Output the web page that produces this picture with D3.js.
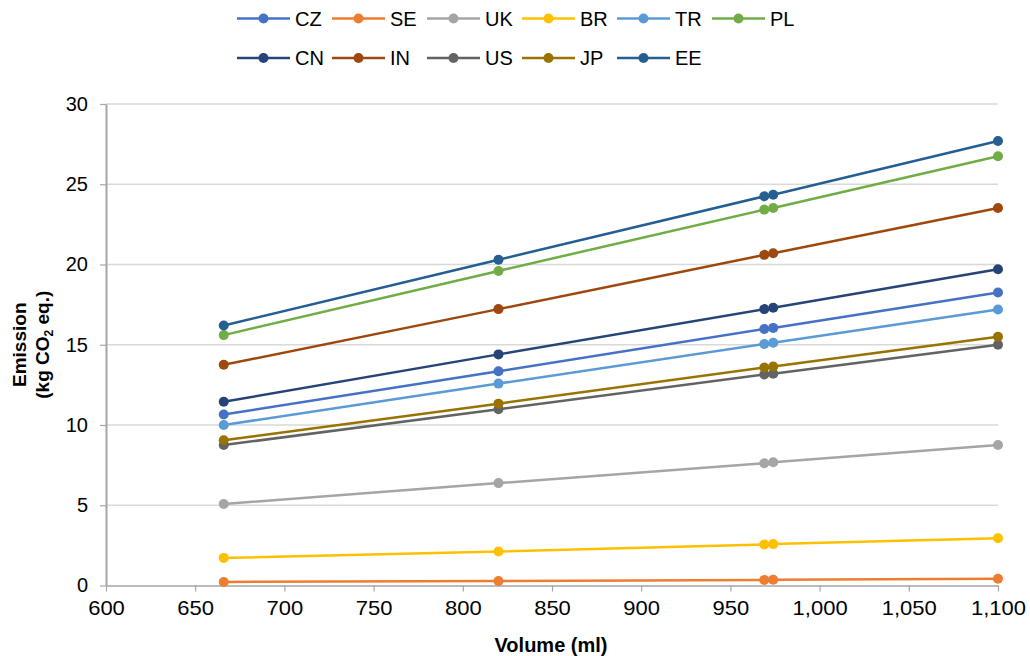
<!DOCTYPE html>
<html>
<head>
<meta charset="utf-8">
<script src="https://cdn.jsdelivr.net/npm/d3@7"></script>
<style>
  html, body { margin: 0; padding: 0; background: #fff; }
  svg { display: block; font-family: "Liberation Sans", Arial, sans-serif; }
</style>
</head>
<body>
<svg id="chart" width="1030" height="656"></svg>
<script>
// ---- data ----
const volumes = [666, 820, 969, 974, 1100];
const seriesNames = ["CZ", "SE", "UK", "BR", "TR", "PL", "CN", "IN", "US", "JP", "EE"];
const seriesColors = ["#4472C4", "#ED7D31", "#A5A5A5", "#FFC000", "#5B9BD5", "#70AD47",
                      "#264478", "#9E480E", "#636363", "#997300", "#255E91"];
const CZ = [10.65, 13.35, 15.98, 16.05, 18.25];
const SE = [0.22, 0.28, 0.35, 0.36, 0.42];
const UK = [5.08, 6.38, 7.62, 7.68, 8.75];
const BR = [1.72, 2.12, 2.55, 2.58, 2.95];
const TR = [10.0, 12.58, 15.05, 15.12, 17.2];
const PL = [15.6, 19.6, 23.42, 23.52, 26.75];
const CN = [11.45, 14.4, 17.22, 17.3, 19.7];
const IN = [13.75, 17.22, 20.6, 20.7, 23.52];
const US = [8.75, 10.98, 13.15, 13.2, 15.0];
const JP = [9.05, 11.33, 13.58, 13.65, 15.5];
const EE = [16.2, 20.3, 24.25, 24.35, 27.7];
const seriesValues = [CZ, SE, UK, BR, TR, PL, CN, IN, US, JP, EE];
const xTicks = [600, 650, 700, 750, 800, 850, 900, 950, 1000, 1050, 1100];
const yTicks = [0, 5, 10, 15, 20, 25, 30];
const xTitle = "Volume (ml)";
const yTitle1 = "Emission";

// ---- layout ----
(function () {
const svg = d3.select("#chart");
const pL = 106, pR = 998, pT = 104, pB = 585.5;
const x = d3.scaleLinear().domain([600, 1100]).range([pL, pR]);
const y = d3.scaleLinear().domain([0, 30]).range([pB, pT]);

// gridlines
svg.append("g").selectAll("line").data(yTicks.filter(d => d > 0)).join("line")
  .attr("x1", pL).attr("x2", pR)
  .attr("y1", d => y(d)).attr("y2", d => y(d))
  .attr("stroke", "#D9D9D9").attr("stroke-width", 1.5);

// x axis
const xAxis = svg.append("g").attr("transform", `translate(0,${pB})`)
  .call(d3.axisBottom(x).tickValues(xTicks).tickSize(6).tickSizeOuter(0)
        .tickFormat(d3.format(",")));
xAxis.select(".domain").attr("stroke", "#A6A6A6").attr("stroke-width", 1.5);
xAxis.selectAll(".tick line").attr("stroke", "#A6A6A6").attr("stroke-width", 1.2);
xAxis.selectAll(".tick text").attr("fill", "#000").attr("font-size", 20)
  .attr("font-family", "Liberation Sans, Arial, sans-serif").attr("dy", "1.05em")
  .attr("transform", "scale(1.1,1)");

// y axis
const yAxis = svg.append("g").attr("transform", `translate(${pL},0)`)
  .call(d3.axisLeft(y).tickValues(yTicks).tickSize(6).tickSizeOuter(0));
yAxis.select(".domain").attr("stroke", "#A6A6A6").attr("stroke-width", 2);
yAxis.selectAll(".tick line").attr("stroke", "#A6A6A6").attr("stroke-width", 1.2);
yAxis.selectAll(".tick text").attr("fill", "#000").attr("font-size", 20)
  .attr("font-family", "Liberation Sans, Arial, sans-serif").attr("x", -18);

// series
const line = d3.line().x((d, i) => x(volumes[i])).y(d => y(d));
seriesNames.forEach((name, s) => {
  const g = svg.append("g");
  g.append("path").datum(seriesValues[s])
    .attr("d", line).attr("fill", "none")
    .attr("stroke", seriesColors[s]).attr("stroke-width", 2.5);
  g.selectAll("circle").data(seriesValues[s]).join("circle")
    .attr("cx", (d, i) => x(volumes[i])).attr("cy", d => y(d))
    .attr("r", 5).attr("fill", seriesColors[s]);
});

// legend
const legend = svg.append("g");
seriesNames.forEach((name, s) => {
  const row = s < 6 ? 0 : 1;
  const col = s < 6 ? s : s - 6;
  const lx = 237 + col * 95, ly = row === 0 ? 18.5 : 58;
  const g = legend.append("g").attr("transform", `translate(${lx},${ly})`);
  g.append("line").attr("x1", 0).attr("x2", 53).attr("y1", 0).attr("y2", 0)
    .attr("stroke", seriesColors[s]).attr("stroke-width", 2.5);
  g.append("circle").attr("cx", 26.5).attr("cy", 0).attr("r", 5).attr("fill", seriesColors[s]);
  g.append("text").attr("x", 58).attr("y", 0).attr("dy", "0.36em")
    .attr("font-size", 20).attr("fill", "#000").text(name);
});

// axis titles
svg.append("text").attr("x", 551).attr("y", 652)
  .attr("text-anchor", "middle").attr("font-size", 20).attr("font-weight", "bold")
  .text(xTitle);

const yt = svg.append("text").attr("transform", `translate(0,${(pT + pB) / 2}) rotate(-90)`)
  .attr("text-anchor", "middle").attr("font-size", 19).attr("font-weight", "bold");
yt.append("tspan").attr("x", 0).attr("y", 26).text(yTitle1);
const t2 = yt.append("tspan").attr("x", 0).attr("y", 49);
t2.append("tspan").text("(kg CO");
t2.append("tspan").attr("font-size", 12).attr("dy", 4).text("2");
t2.append("tspan").attr("dy", -4).text(" eq.)");
})();
</script>
</body>
</html>
